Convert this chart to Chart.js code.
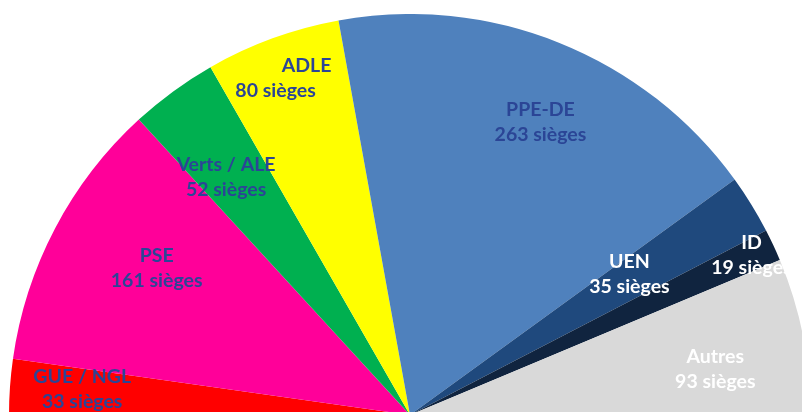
<!DOCTYPE html>
<html>
<head>
<meta charset="utf-8">
<script src="https://cdn.jsdelivr.net/npm/chart.js@4/dist/chart.umd.min.js"></script>
<style>
    html, body { margin: 0; padding: 0; background: #fff; overflow: hidden; }
    body { width: 802px; height: 412px; position: relative; }
    #wrap { position: absolute; left: 9px; top: 14px; width: 802px; height: 401px; }
</style>
</head>
<body>
<div id="wrap"><canvas id="seats"></canvas></div>
<script>
// Groups of the parliament, left to right
const groups = ['GUE / NGL', 'PSE', 'Verts / ALE', 'ADLE', 'PPE-DE', 'UEN', 'ID', 'Autres'];
const seats = [33, 161, 52, 80, 263, 35, 19, 93];

const colors = ['#ff0000', '#ff0099', '#00b050', '#ffff00', '#4f81bd', '#1f497d', '#10243f', '#d9d9d9'];
const labelColors = ['#2b4596', '#2b4596', '#2b4596', '#2b4596', '#2b4596', '#ffffff', '#ffffff', '#ffffff'];

// label placement: fraction of radius, angle shift (deg), x shift for each line
const labelRadius = [0.82, 0.73, 0.75, 0.89, 0.80, 0.65, 0.94, 0.77];
const labelAngle = [-0.5, -2.3, 1.5, -0.5, -2.1, 1.0, 0, -2.8];
const lineShift = [[0, 0], [0, 0], [0, 0], [16, -15], [0, 0], [0, 0], [0, 0], [0, 0]];

const seatLabels = {
    id: 'seatLabels',
    afterDatasetsDraw(chart) {
        const ctx = chart.ctx;
        const meta = chart.getDatasetMeta(0);
        ctx.save();
        ctx.font = 'bold 19.5px Lato';
        ctx.textAlign = 'center';
        ctx.textBaseline = 'middle';
        meta.data.forEach((arc, i) => {
            const p = arc.getProps(['x', 'y', 'startAngle', 'endAngle', 'outerRadius'], true);
            const mid = (p.startAngle + p.endAngle) / 2 - labelAngle[i] * Math.PI / 180;
            const r = p.outerRadius * labelRadius[i];
            const x = p.x + Math.cos(mid) * r;
            const y = p.y + Math.sin(mid) * r;
            ctx.fillStyle = labelColors[i];
            ctx.fillText(groups[i], x + lineShift[i][0], y - 12.5);
            ctx.fillText(seats[i] + ' sièges', x + lineShift[i][1], y + 12.5);
        });
        ctx.restore();
    }
};

new Chart(document.getElementById('seats'), {
    type: 'pie',
    data: {
        labels: groups,
        datasets: [{
            data: seats,
            backgroundColor: colors,
            borderWidth: 0
        }]
    },
    options: {
        responsive: true,
        maintainAspectRatio: false,
        animation: false,
        rotation: -90,
        circumference: 180,
        layout: { padding: 0 },
        plugins: {
            legend: { display: false },
            tooltip: { enabled: false }
        }
    },
    plugins: [seatLabels]
});
</script>
</body>
</html>
